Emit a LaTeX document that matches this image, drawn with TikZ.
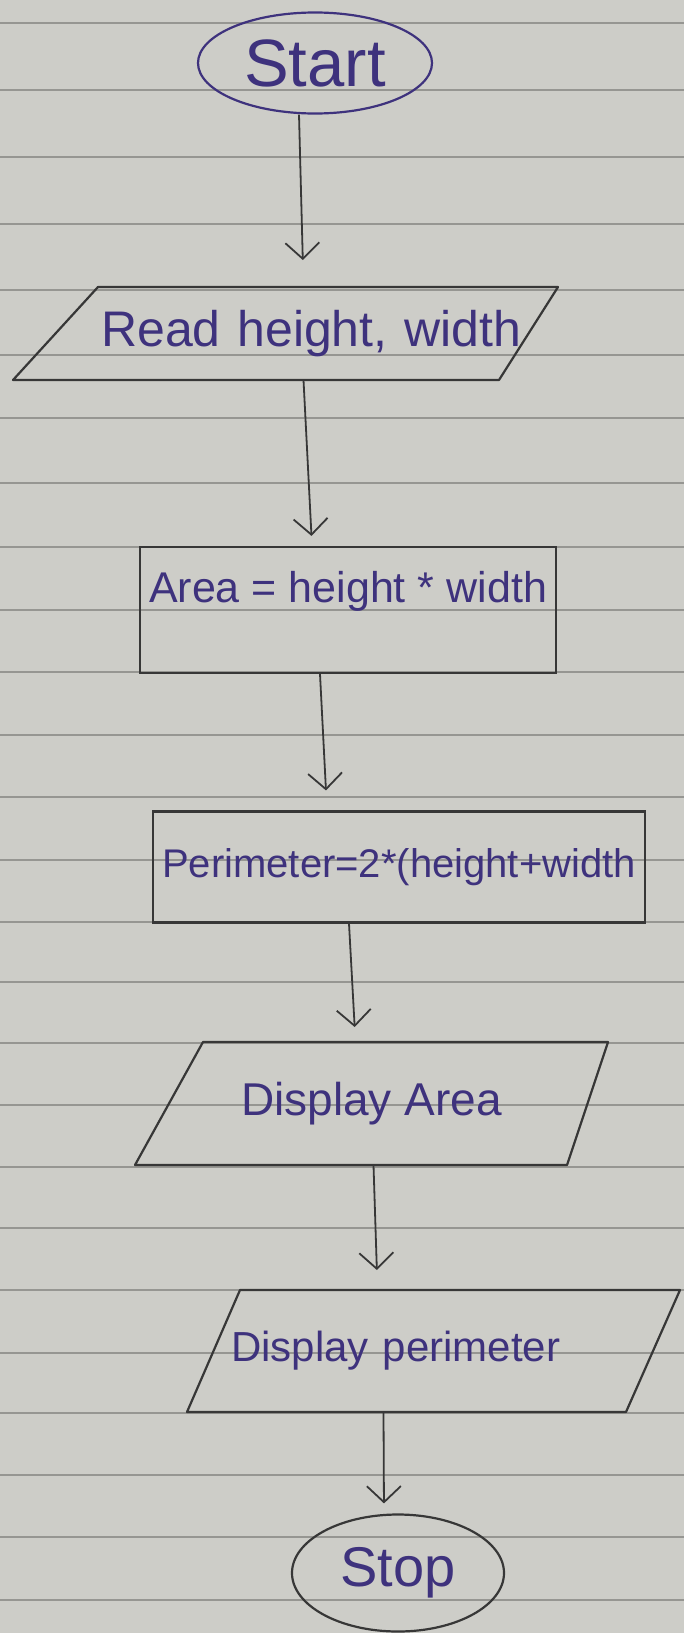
\documentclass[tikz,border=0pt]{standalone}
\usepackage{fontspec}
\setmainfont{Liberation Sans}
\usetikzlibrary{arrows.meta,shapes.geometric}

\definecolor{paper}{RGB}{205,205,200}
\definecolor{rule}{RGB}{150,150,146}
\definecolor{ink}{RGB}{62,50,125}
\definecolor{pencil}{RGB}{55,55,55}

\newcommand{\hand}[1]{\fontsize{#1}{#1}\selectfont}

\tikzset{
  term/.style={ellipse},
  % slanted box: #1 = slant at the top left, #2 = slant at the bottom right
  io/.style 2 args={rectangle,draw=none,outer sep=0pt,
    append after command={\pgfextra{\draw[pencil,line width=2.2pt,line join=round]
      ([xshift=#1]\tikzlastnode.north west) -- (\tikzlastnode.north east)
      -- ([xshift=-#2]\tikzlastnode.south east) -- (\tikzlastnode.south west) -- cycle;}}},
  proc/.style={rectangle}
}

\begin{document}
\begin{tikzpicture}[x=1pt,y=-1pt]
    % the sheet of lined paper
    \fill[paper] (0,0) rectangle (684,1633);
    \useasboundingbox (0,0) rectangle (684,1633);
    \foreach \y in {23,90,157,224,290,355,418,483,547,610,672,735,797,860,922,982,1043,1105,1167,1228,1290,1353,1413,1475,1537,1600}
      \draw[rule,line width=1.4pt] (0,\y) -- (684,\y);

    \begin{scope}[every node/.style={draw=pencil,line width=2.2pt,text=ink,inner sep=0pt}]
      \node[term,draw=ink,minimum width=234pt,minimum height=101pt,font=\hand{67}] (start) at (315,63) {Start};
      \node[io={85pt}{59pt},minimum width=545pt,minimum height=93pt,text width=471pt,align=right,font=\hand{50}] (read) at (285.5,333.5) {Read height, width};
      \node[proc,minimum width=416pt,minimum height=126pt,text height=32pt,text depth=47pt,font=\hand{43}] (area) at (348,610) {Area = height * width};
      \node[proc,minimum width=492pt,minimum height=111pt,font=\hand{40}] (perim) at (399,867) {Perimeter=2*(height+width};
      \node[io={68pt}{41pt},minimum width=473pt,minimum height=123pt,font=\hand{46}] (disparea) at (371.5,1103.5) {Display Area};
      \node[io={53pt}{54pt},minimum width=493pt,minimum height=122pt,text width=405pt,align=left,font=\hand{42}] (dispperim) at (433.5,1351) {Display perimeter};
      \node[term,minimum width=212pt,minimum height=117pt,font=\hand{56}] (stop) at (398,1573) {Stop};
    \end{scope}

    \begin{scope}[>={Straight Barb[length=16pt,width=34pt]},every path/.style={draw=pencil,line width=1.8pt}]
      \draw[->,shorten >=27pt] ([xshift=-16pt]start.south) -- ([xshift=18pt]read.north);
      \draw[->,shorten >=10pt] ([xshift=18pt]read.south) -- ([xshift=-36pt]area.north);
      \draw[->,shorten >=20pt] ([xshift=-28pt]area.south) -- ([xshift=-72pt]perim.north);
      \draw[->,shorten >=15pt] ([xshift=-50pt]perim.south) -- ([xshift=-16pt]disparea.north);
      \draw[->,shorten >=20pt] ([xshift=2pt]disparea.south) -- ([xshift=-56pt]dispperim.north);
      \draw[->,shorten >=10pt] ([xshift=-50pt]dispperim.south) -- ([xshift=-14pt]stop.north);
    \end{scope}
\end{tikzpicture}
\end{document}
